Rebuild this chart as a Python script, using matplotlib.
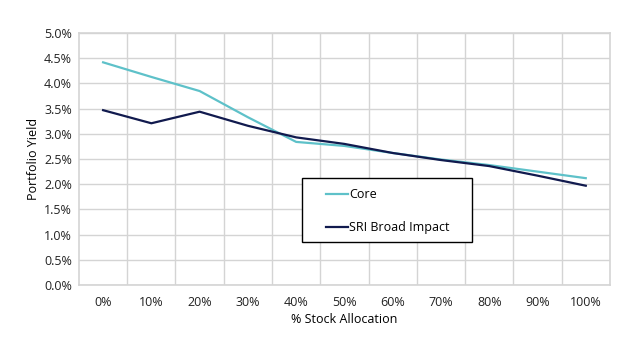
import matplotlib.pyplot as plt
from matplotlib.patches import Rectangle
import numpy as np

allocation = ['0%', '10%', '20%', '30%', '40%', '50%', '60%', '70%', '80%', '90%', '100%']
core = [4.42, 4.13, 3.85, 3.33, 2.84, 2.76, 2.62, 2.49, 2.38, 2.25, 2.12]
sri = [3.47, 3.21, 3.44, 3.16, 2.93, 2.80, 2.62, 2.48, 2.36, 2.17, 1.97]

plt.rcParams['font.family'] = ['Open Sans', 'DejaVu Sans']

fig = plt.figure(figsize=(6.42, 3.38), dpi=100)
ax = fig.add_axes([0.123, 0.157, 0.827, 0.745])

x = np.arange(len(allocation))
ax.plot(x, core, color='#5ec1c9', lw=1.6, label='Core')
ax.plot(x, sri, color='#111a4e', lw=1.6, label='SRI Broad Impact')

ax.set_xlim(-0.5, len(allocation) - 0.5)
ax.set_ylim(0, 5)
ax.set_xticks(x)
ax.set_xticklabels(allocation)
ax.set_xticks(np.arange(0.5, len(allocation) - 1, 1), minor=True)
ax.set_yticks(np.arange(0, 5.01, 0.5))
ax.set_yticklabels(['%.1f%%' % v for v in np.arange(0, 5.01, 0.5)])
ax.tick_params(which='both', length=0, labelsize=9, colors='#222222')
ax.tick_params(axis='x', pad=8)
ax.tick_params(axis='y', pad=5)
ax.grid(axis='y', color='#d4d4d4', lw=1)
ax.grid(axis='x', which='minor', color='#d4d4d4', lw=1)
for s in ax.spines.values():
    s.set_color('#d4d4d4')
    s.set_linewidth(1.2)
ax.set_axisbelow(True)

ax.set_xlabel('% Stock Allocation', fontsize=9, labelpad=3)
ax.set_ylabel('Portfolio Yield', fontsize=9, labelpad=3)

# legend box drawn separately so its size matches the original
box = Rectangle((302 / 642, 96 / 338), 170 / 642, 64 / 338,
                transform=fig.transFigure, facecolor='white',
                edgecolor='black', lw=1.0, zorder=5, clip_on=False)
ax.add_patch(box)
leg = ax.legend(loc='upper left', bbox_to_anchor=(326 / 642, 1 - 188 / 338),
                bbox_transform=fig.transFigure, fontsize=9, frameon=False,
                handlelength=1.75, handletextpad=0.1, labelspacing=1.6,
                borderpad=0, borderaxespad=0)
leg.set_zorder(6)

fig.savefig('out.png', dpi=100)
